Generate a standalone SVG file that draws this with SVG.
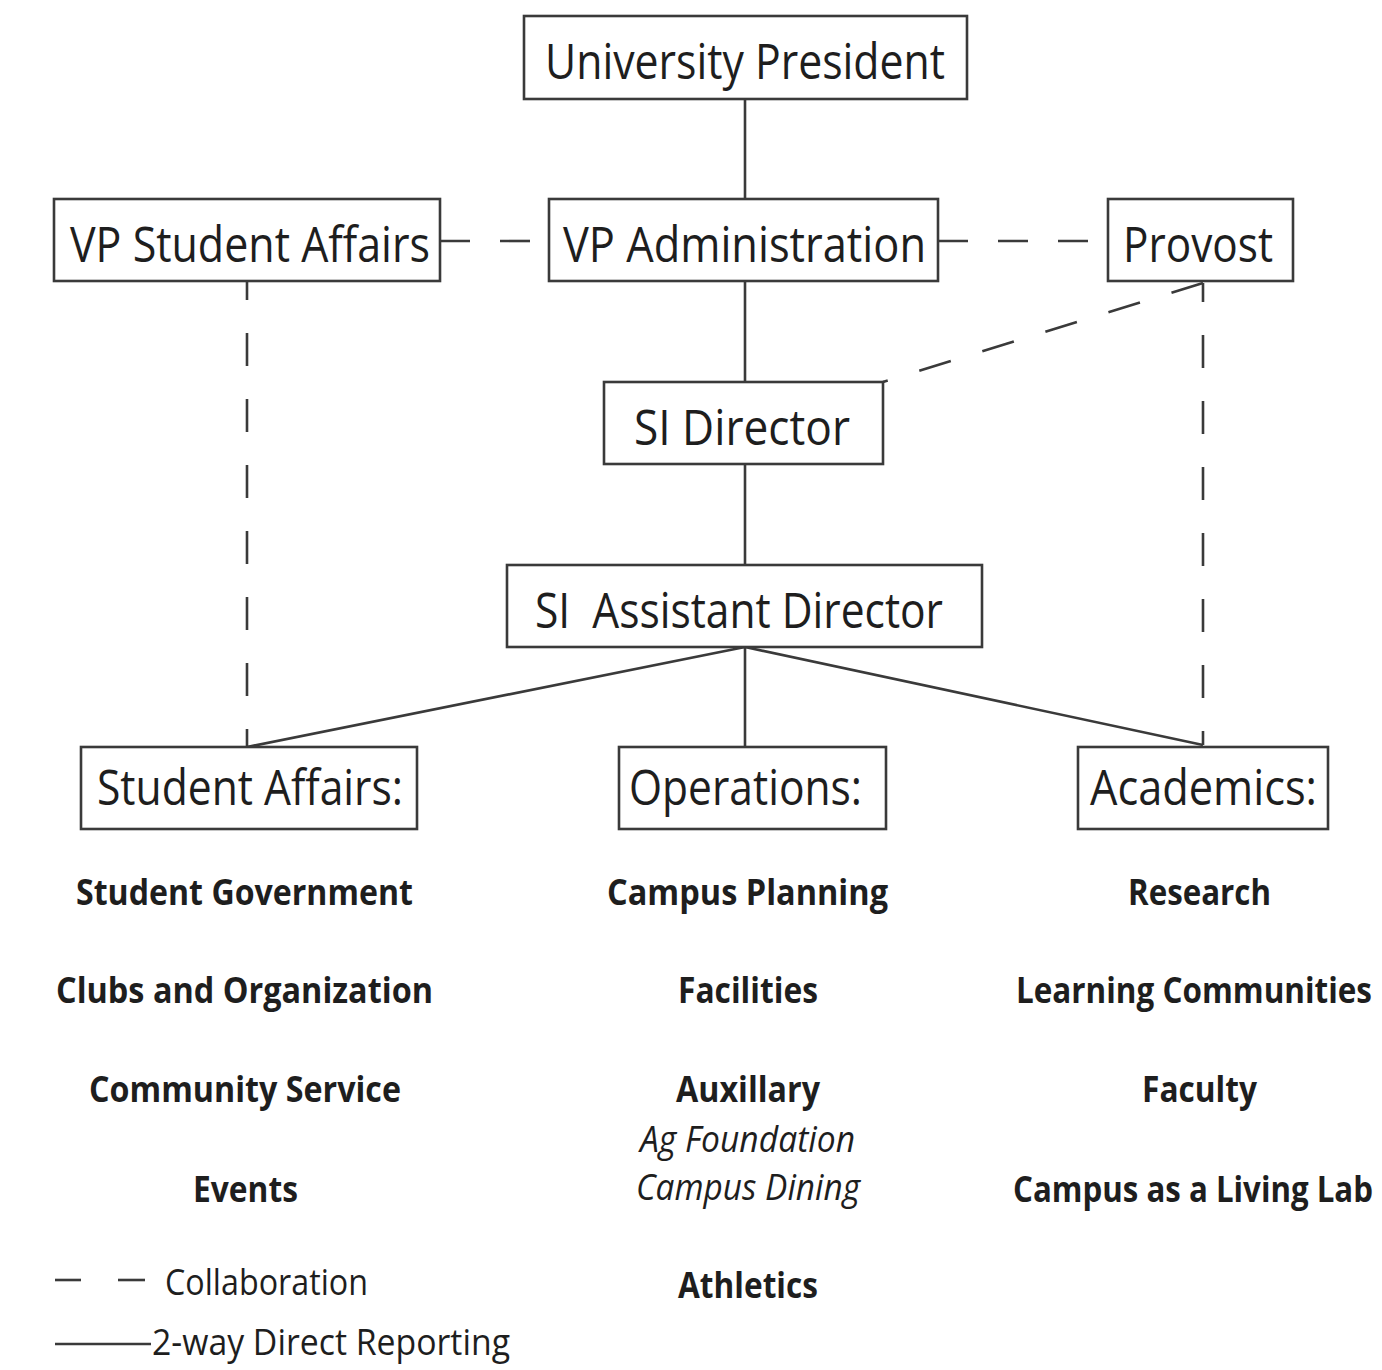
<svg xmlns="http://www.w3.org/2000/svg" width="1382" height="1370" viewBox="0 0 1382 1370">
<style>
.box{fill:#fff;stroke:#3a3a3a;stroke-width:2.6}
.lbl{font-family:"Open Sans","Noto Sans","Liberation Sans",sans-serif;font-size:50px;fill:#1e1e1e;text-anchor:middle}
.item{font-family:"Open Sans","Noto Sans","Liberation Sans",sans-serif;font-size:36px;font-weight:bold;fill:#1e1e1e;text-anchor:middle}
.ital{font-family:"Open Sans","Noto Sans","Liberation Sans",sans-serif;font-size:36px;font-style:italic;fill:#1e1e1e;text-anchor:middle}
.leg{font-family:"Open Sans","Noto Sans","Liberation Sans",sans-serif;font-size:36px;fill:#1e1e1e}
.solid{stroke:#3a3a3a;stroke-width:2.6;fill:none}
.dash{stroke:#3a3a3a;stroke-width:2.6;fill:none;stroke-dasharray:30 30}
.vdash{stroke:#3a3a3a;stroke-width:2.6;fill:none;stroke-dasharray:33 33}
</style>
<rect width="1382" height="1370" fill="#fff"/>
<g id="connectors">
<line class="solid" x1="745" y1="99" x2="745" y2="199"/>
<line class="solid" x1="745" y1="281" x2="745" y2="382"/>
<line class="solid" x1="745" y1="464" x2="745" y2="565"/>
<line class="solid" x1="745" y1="647" x2="247" y2="747"/>
<line class="solid" x1="745" y1="647" x2="745" y2="747"/>
<line class="solid" x1="745" y1="647" x2="1203" y2="745"/>
<line class="dash" x1="440" y1="241" x2="549" y2="241"/>
<line class="dash" x1="938" y1="241" x2="1108" y2="241"/>
<line class="vdash" x1="247" y1="281" x2="247" y2="747" stroke-dashoffset="14"/>
<line class="vdash" x1="1203" y1="283" x2="1203" y2="745" stroke-dashoffset="14"/>
<line class="vdash" x1="1203" y1="283" x2="883" y2="382"/>
</g>
<g id="university-president">
<rect class="box" x="524" y="16" width="443" height="83"/>
<text class="lbl" x="745" y="79" textLength="400" lengthAdjust="spacingAndGlyphs">University President</text>
</g>
<g id="vp-student-affairs">
<rect class="box" x="54" y="199" width="386" height="82"/>
<text class="lbl" x="250" y="262" textLength="360" lengthAdjust="spacingAndGlyphs">VP Student Affairs</text>
</g>
<g id="vp-administration">
<rect class="box" x="549" y="199" width="389" height="82"/>
<text class="lbl" x="744.5" y="262" textLength="363" lengthAdjust="spacingAndGlyphs">VP Administration</text>
</g>
<g id="provost">
<rect class="box" x="1108" y="199" width="185" height="82"/>
<text class="lbl" x="1198" y="262" textLength="150" lengthAdjust="spacingAndGlyphs">Provost</text>
</g>
<g id="si-director">
<rect class="box" x="604" y="382" width="279" height="82"/>
<text class="lbl" x="742" y="445" textLength="216" lengthAdjust="spacingAndGlyphs">SI Director</text>
</g>
<g id="si-assistant-director">
<rect class="box" x="507" y="565" width="475" height="82"/>
<text class="lbl" x="739" y="628" textLength="408" lengthAdjust="spacingAndGlyphs" xml:space="preserve">SI  Assistant Director</text>
</g>
<g id="student-affairs">
<rect class="box" x="81" y="747" width="336" height="82"/>
<text class="lbl" x="250" y="805" textLength="306" lengthAdjust="spacingAndGlyphs">Student Affairs:</text>
<text class="item" x="244.5" y="905" textLength="337" lengthAdjust="spacingAndGlyphs">Student Government</text>
<text class="item" x="244.5" y="1003" textLength="377" lengthAdjust="spacingAndGlyphs">Clubs and Organization</text>
<text class="item" x="245" y="1102" textLength="312" lengthAdjust="spacingAndGlyphs">Community Service</text>
<text class="item" x="245.5" y="1202" textLength="105" lengthAdjust="spacingAndGlyphs">Events</text>
</g>
<g id="operations">
<rect class="box" x="619" y="747" width="267" height="82"/>
<text class="lbl" x="745.5" y="805" textLength="233" lengthAdjust="spacingAndGlyphs">Operations:</text>
<text class="item" x="747.5" y="905" textLength="281" lengthAdjust="spacingAndGlyphs">Campus Planning</text>
<text class="item" x="748" y="1003" textLength="140" lengthAdjust="spacingAndGlyphs">Facilities</text>
<text class="item" x="748" y="1102" textLength="144" lengthAdjust="spacingAndGlyphs">Auxillary</text>
<text class="ital" x="747.5" y="1152" textLength="215" lengthAdjust="spacingAndGlyphs">Ag Foundation</text>
<text class="ital" x="748" y="1200" textLength="224" lengthAdjust="spacingAndGlyphs">Campus Dining</text>
<text class="item" x="748" y="1298" textLength="140" lengthAdjust="spacingAndGlyphs">Athletics</text>
</g>
<g id="academics">
<rect class="box" x="1078" y="747" width="250" height="82"/>
<text class="lbl" x="1203.5" y="805" textLength="227" lengthAdjust="spacingAndGlyphs">Academics:</text>
<text class="item" x="1199.5" y="905" textLength="143" lengthAdjust="spacingAndGlyphs">Research</text>
<text class="item" transform="translate(1194 1003) scale(0.8 1)" x="0" y="0" textLength="445" lengthAdjust="spacingAndGlyphs">Learning Communities</text>
<text class="item" x="1199.5" y="1102" textLength="115" lengthAdjust="spacingAndGlyphs">Faculty</text>
<text class="item" transform="translate(1193 1202) scale(0.8 1)" x="0" y="0" textLength="450" lengthAdjust="spacingAndGlyphs">Campus as a Living Lab</text>
</g>
<g id="legend">
<line class="solid" x1="55" y1="1280" x2="81" y2="1280"/>
<line class="solid" x1="118" y1="1280" x2="145" y2="1280"/>
<text class="leg" x="165" y="1295" textLength="203" lengthAdjust="spacingAndGlyphs">Collaboration</text>
<line class="solid" x1="55" y1="1344" x2="151" y2="1344"/>
<text class="leg" x="152" y="1355" textLength="358" lengthAdjust="spacingAndGlyphs">2-way Direct Reporting</text>
</g>
</svg>
